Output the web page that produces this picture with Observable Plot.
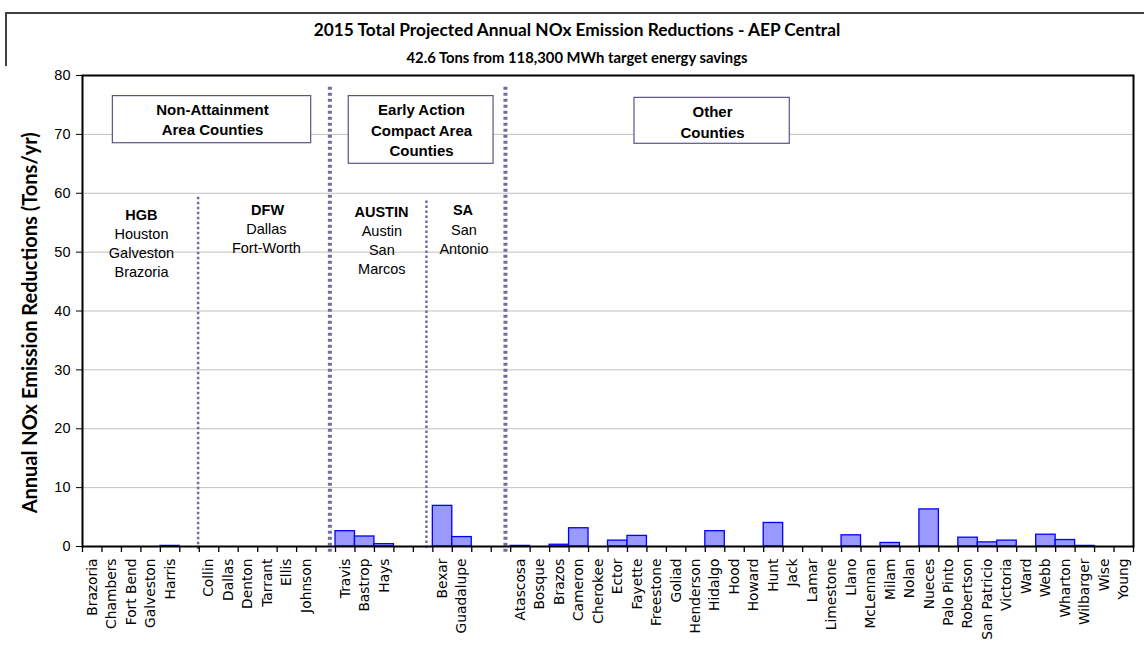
<!DOCTYPE html>
<html><head><meta charset="utf-8">
<script src="https://cdn.jsdelivr.net/npm/d3@7"></script>
<script src="https://cdn.jsdelivr.net/npm/@observablehq/plot@0.6"></script>
<style>
body{margin:0;background:#fff;width:1144px;height:658px;overflow:hidden;position:relative;font-family:"Liberation Sans",Arial,sans-serif;}
#frame{position:absolute;left:5px;top:12px;width:1200px;height:700px;border-left:2px solid #404040;border-top:2px solid #404040;}
.t{position:absolute;left:0;width:1154px;text-align:center;font-family:Lato,sans-serif;font-weight:bold;color:#000;line-height:20px;white-space:nowrap;}
#chart{position:absolute;left:0;top:66px;}
</style></head>
<body>
<div id="frame"></div>
<div class="t" style="top:20px;font-size:17.3px">2015 Total Projected Annual NOx Emission Reductions - AEP Central</div>
<div class="t" style="top:47px;font-size:14.8px">42.6 Tons from 118,300 MWh target energy savings</div>
<div id="chart"></div>
<script>
// ---- data ----
const counties = ["Brazoria","Chambers","Fort Bend","Galveston","Harris","",
  "Collin","Dallas","Denton","Tarrant","Ellis","Johnson","",
  "Travis","Bastrop","Hays","","",
  "Bexar","Guadalupe","","",
  "Atascosa","Bosque","Brazos","Cameron","Cherokee","Ector","Fayette","Freestone","Goliad","Henderson",
  "Hidalgo","Hood","Howard","Hunt","Jack","Lamar","Limestone","Llano","McLennan","Milam","Nolan",
  "Nueces","Palo Pinto","Robertson","San Patricio","Victoria","Ward","Webb","Wharton","Wilbarger","Wise","Young"];
const reductions = [0,0,0,0,0.1,null,
  0,0,0,0,0,0,null,
  2.6,1.7,0.4,null,null,
  6.9,1.6,null,null,
  0.1,0,0.3,3.1,0,1.0,1.8,0,0,0,
  2.6,0,0,4.0,0,0,0,1.9,0,0.6,0,
  6.3,0,1.5,0.7,1.0,0,2.0,1.1,0.1,0,0];
const yTicks = [0,10,20,30,40,50,60,70,80];
const yLabel = "Annual NOx Emission Reductions (Tons/yr)";

// ---- annotations (in chart units: x = county slot index, y = tons/yr) ----
const groupBoxes = [
  {x1:1.56, x2:11.75, y1:68.5, y2:76.5, text:"Non-Attainment\nArea Counties", cx:6.68, cy:72.7},
  {x1:13.68, x2:21.12, y1:65.0, y2:76.5, text:"Early Action\nCompact Area\nCounties", cx:17.42, cy:70.9},
  {x1:28.36, x2:36.34, y1:68.4, y2:76.2, text:"Other\nCounties", cx:32.37, cy:72.3}
];
const regionHeads = [
  {text:"HGB", x:3.03, y:56.2},
  {text:"DFW", x:9.51, y:57.1},
  {text:"AUSTIN", x:15.36, y:56.7},
  {text:"SA", x:19.55, y:57.1}
];
const regionNames = [
  {text:"Houston\nGalveston\nBrazoria", x:3.03, y:50.0},
  {text:"Dallas\nFort-Worth", x:9.45, y:52.5},
  {text:"Austin\nSan\nMarcos", x:15.38, y:50.5},
  {text:"San\nAntonio", x:19.6, y:52.4}
];
const majorDividers = [{x:12.71, top:78.0, bottom:-1.0}, {x:21.73, top:78.0, bottom:-1.0}];
const minorDividers = [{x:5.94, top:59.3, bottom:-0.5}, {x:17.67, top:58.7, bottom:-0.5}];
const yLabelPos = [{x:-2.68, y:38, text: yLabel}];

const data = counties.map((county, i) => ({i, county, value: reductions[i]}));
const bars = data.filter(d => d.value != null && d.value > 0);

const plot = Plot.plot({
  width: 1144, height: 592,
  marginTop: 9, marginBottom: 112, marginLeft: 82, marginRight: 11,
  x: {domain: [0, counties.length], axis: null},
  y: {domain: [0, 80], axis: null},
  style: {background: "white", overflow: "visible", fontFamily: "'Liberation Sans', Arial, sans-serif", color: "black"},
  marks: [
    Plot.gridY(yTicks.filter(v => v > 0 && v < 80), {stroke: "#c0c0c0", strokeOpacity: 1}),
    Plot.rect(groupBoxes, {x1: "x1", x2: "x2", y1: "y1", y2: "y2", fill: "white", stroke: "#55558c", strokeWidth: 1.2}),
    Plot.ruleX(majorDividers, {x: "x", y1: "top", y2: "bottom", stroke: "#6e6ea4", strokeWidth: 4, strokeDasharray: "3,3"}),
    Plot.ruleX(minorDividers, {x: "x", y1: "top", y2: "bottom", stroke: "#6e6ea4", strokeWidth: 2.5, strokeDasharray: "2.5,2.5"}),
    Plot.rectY(bars, {x1: "i", x2: d => d.i + 1, y: "value", fill: "#9999ff", stroke: "#0000ff", strokeWidth: 1.3}),
    Plot.frame({stroke: "black", strokeWidth: 2}),
    Plot.axisY(yTicks, {tickSize: 6, tickPadding: 6, fontSize: 14.5, label: null}),
    Plot.axisX(d3.range(counties.length + 1), {tickSize: 6, tickFormat: () => "", label: null, strokeWidth: 1.3}),
    Plot.axisX(d3.range(counties.length).map(i => i + 0.5), {tickSize: 0, tickPadding: 12, tickRotate: -90,
      tickFormat: v => counties[Math.floor(v)], fontFamily: "DejaVu Sans", fontSize: 13.8, label: null}),
    Plot.text(groupBoxes, {x: "cx", y: "cy", text: "text", fontWeight: "bold", fontSize: 15, lineHeight: 1.38}),
    Plot.text(regionHeads, {x: "x", y: "y", text: "text", fontWeight: "bold", fontSize: 14.5}),
    Plot.text(regionNames, {x: "x", y: "y", text: "text", fontSize: 14.5, lineHeight: 1.31}),
    Plot.text(yLabelPos, {x: "x", y: "y", text: "text", rotate: -90, textAnchor: "middle",
      fontFamily: "Lato", fontWeight: "bold", fontSize: 20})
  ]
});
document.getElementById("chart").appendChild(plot);
</script>
</body></html>
